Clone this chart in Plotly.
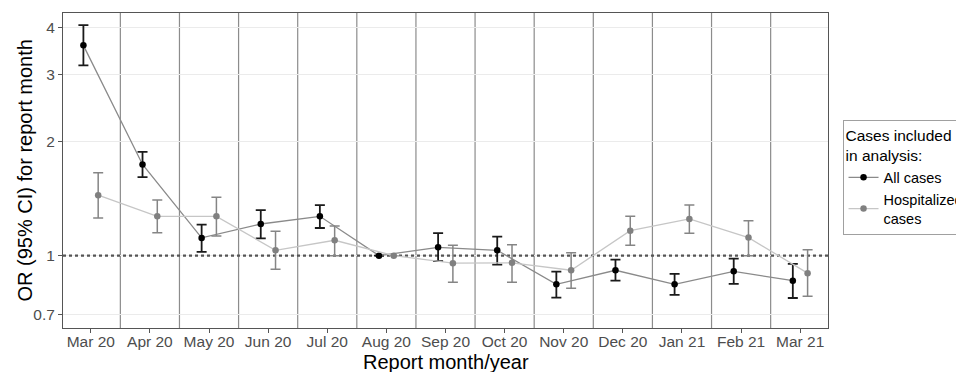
import plotly.graph_objects as go

months = ["Mar 20", "Apr 20", "May 20", "Jun 20", "Jul 20", "Aug 20", "Sep 20",
          "Oct 20", "Nov 20", "Dec 20", "Jan 21", "Feb 21", "Mar 21"]

all_or = [3.59, 1.74, 1.114, 1.212, 1.27, 1.0, 1.052, 1.033, 0.840, 0.915, 0.840, 0.909, 0.859]
all_lo = [3.18, 1.611, 1.023, 1.111, 1.183, 1.0, 0.967, 0.947, 0.775, 0.859, 0.788, 0.842, 0.773]
all_hi = [4.06, 1.878, 1.207, 1.318, 1.359, 1.0, 1.146, 1.122, 0.907, 0.976, 0.895, 0.982, 0.951]

hosp_or = [1.444, 1.27, 1.27, 1.033, 1.098, 1.0, 0.955, 0.957, 0.915, 1.164, 1.25, 1.116, 0.899]
hosp_lo = [1.258, 1.15, 1.127, 0.921, 1.0, 1.0, 0.851, 0.851, 0.820, 1.065, 1.146, 1.0, 0.781]
hosp_hi = [1.656, 1.403, 1.427, 1.16, 1.198, 1.0, 1.065, 1.069, 1.018, 1.27, 1.361, 1.237, 1.037]

y_ticks = [0.7, 1, 2, 3, 4]
y_ticktext = ["0.7", "1", "2", "3", "4"]

dodge = 0.125
idx = list(range(len(months)))
x_all = [i - dodge for i in idx]
x_hosp = [i + dodge for i in idx]

FONT = "Liberation Sans, Arial, sans-serif"

fig = go.Figure()

# reference line at OR = 1
fig.add_trace(go.Scatter(
    x=[-0.47, len(months) - 0.53], y=[1, 1], mode="lines",
    line=dict(color="#555555", width=2.2, dash="dot"),
    showlegend=False, hoverinfo="skip"))

fig.add_trace(go.Scatter(
    x=x_all, y=all_or, mode="lines+markers", name="All cases",
    line=dict(color="#8a8a8a", width=1.3),
    marker=dict(color="black", size=6.5),
    error_y=dict(type="data", symmetric=False,
                 array=[h - v for h, v in zip(all_hi, all_or)],
                 arrayminus=[v - l for v, l in zip(all_or, all_lo)],
                 color="#1a1a1a", thickness=1.8, width=5)))

fig.add_trace(go.Scatter(
    x=x_hosp, y=hosp_or, mode="lines+markers", name="Hospitalized<br>cases",
    line=dict(color="#c6c6c6", width=1.3),
    marker=dict(color="#808080", size=6.5),
    error_y=dict(type="data", symmetric=False,
                 array=[h - v for h, v in zip(hosp_hi, hosp_or)],
                 arrayminus=[v - l for v, l in zip(hosp_or, hosp_lo)],
                 color="#858585", thickness=1.5, width=5)))

shapes = []
for i in range(len(months) - 1):
    shapes.append(dict(type="line", xref="x", yref="paper", x0=i + 0.5, x1=i + 0.5,
                       y0=0, y1=1, line=dict(color="#8c8c8c", width=1.2), layer="below"))

annotations = [
    dict(text="Report month/year", xref="paper", yref="paper", x=0.5, y=-0.108,
         xanchor="center", yanchor="middle", showarrow=False,
         font=dict(size=20, color="black")),
    dict(text="OR (95% CI) for report month", xref="paper", yref="paper", x=-0.0497, y=0.5,
         xanchor="center", yanchor="middle", showarrow=False, textangle=-90,
         font=dict(size=20, color="black")),
]

fig.update_layout(
    width=956, height=372,
    margin=dict(l=63, r=128, t=13, b=44, autoexpand=False),
    paper_bgcolor="white", plot_bgcolor="white",
    font=dict(family=FONT, color="black"),
    shapes=shapes,
    annotations=annotations,
    showlegend=True,
    legend=dict(
        title=dict(text="Cases included<br>in analysis:", font=dict(size=15.5, color="black")),
        x=1.019, y=0.66, xanchor="left", yanchor="top",
        bordercolor="#a0a0a0", borderwidth=1, bgcolor="white",
        font=dict(size=14.5, color="black"),
        tracegroupgap=0, itemwidth=30),
    xaxis=dict(
        range=[-0.47, len(months) - 0.53],
        tickmode="array", tickvals=idx, ticktext=months,
        showgrid=False, zeroline=False,
        showline=True, mirror=True, linecolor="#555555", linewidth=1,
        ticks="outside", ticklen=4, tickcolor="#555555",
        tickfont=dict(size=15.5, color="#4d4d4d"),
        ticklabelstandoff=-5,
        automargin=False,
    ),
    yaxis=dict(
        type="log", range=[-0.191, 0.6405],
        tickmode="array", tickvals=y_ticks, ticktext=y_ticktext,
        showgrid=True, gridcolor="#ebebeb", gridwidth=1, zeroline=False,
        showline=True, mirror=True, linecolor="#555555", linewidth=1,
        ticks="outside", ticklen=4, tickcolor="#555555",
        tickfont=dict(size=15.5, color="#4d4d4d"),
        automargin=False,
    ),
)

fig.write_html("out.html")
